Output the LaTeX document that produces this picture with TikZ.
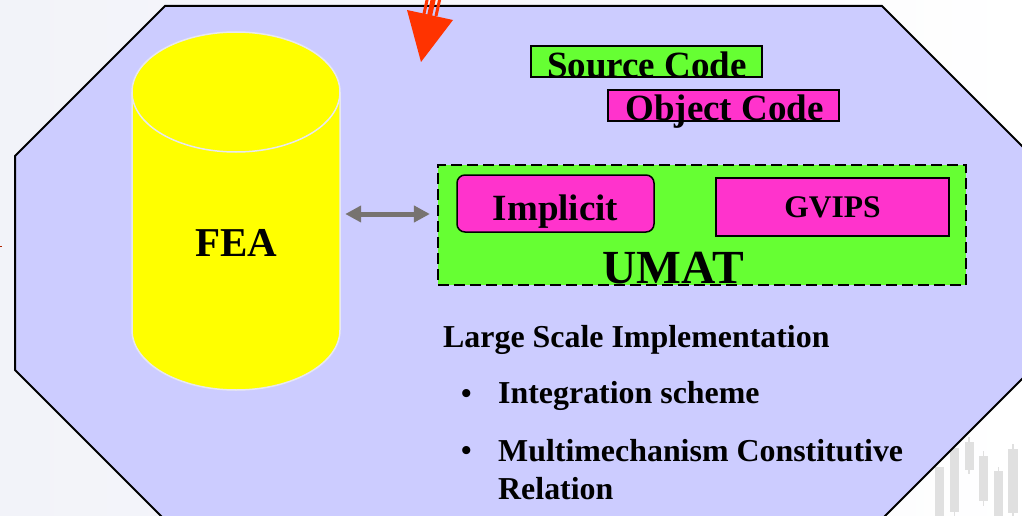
\documentclass[tikz,border=0pt]{standalone}
\usepackage{fontspec}
\setmainfont{Liberation Serif}
\usetikzlibrary{arrows.meta}
\definecolor{octfill}{HTML}{CCCCFF}
\definecolor{codegreen}{HTML}{66FF33}
\definecolor{codepink}{HTML}{FF33CC}
\definecolor{redarrow}{HTML}{FF3300}
\definecolor{candle}{HTML}{E0E0E0}
\definecolor{paleside}{HTML}{F2F3F9}
\definecolor{linkgray}{HTML}{777370}
\definecolor{rimgray}{HTML}{E8E8F0}
\definecolor{feayellow}{HTML}{FFFF00}

\begin{document}
\begin{tikzpicture}[x=1pt,y=-1pt,
  code box/.style={draw=black,line width=1.5pt,inner sep=0pt,font=\fontsize{37}{37}\selectfont\bfseries},
  label text/.style={inner sep=0pt,font=\fontsize{31.9}{38}\selectfont\bfseries,align=left,anchor=west},
  candle body/.style={fill=candle,draw=none},
  candle wick/.style={draw=candle,line width=1.5pt},
  red strip/.style={draw=redarrow}]
  \path[use as bounding box,clip] (0,0) rectangle (1022,516);
  \path[left color=paleside,right color=white,middle color=paleside!60!white] (0,0) rectangle (1022,516);

  \draw[candle wick] (954.5,510) -- (954.5,516);
  \draw[candle wick] (969,437) -- (969,474);
  \draw[candle wick] (983.5,451) -- (983.5,506);
  \draw[candle wick] (998.5,467) -- (998.5,516);
  \draw[candle wick] (1013,444) -- (1013,516);
  \fill[candle body] (935,467) rectangle (944,516);
  \fill[candle body] (950,448) rectangle (959,512);
  \fill[candle body] (964.5,442) rectangle (974,470);
  \fill[candle body] (979,456) rectangle (988,501);
  \fill[candle body] (994,471) rectangle (1003,516);
  \fill[candle body] (1008,449) rectangle (1018,513);

  \draw[draw=black,line width=2pt,fill=octfill] (165,6) -- (882,6) -- (1040,164) -- (1040,361) -- (884,517) -- (884,540) -- (163,540) -- (163,518) -- (15,370) -- (15,156) -- cycle;
  \draw[draw=redarrow!70!black,line width=.8pt] (0,246) -- (2,246);

  \coordinate (strip1a) at (427.5,-2);
  \coordinate (strip1b) at (423.5,16);
  \coordinate (strip2a) at (433.5,-2);
  \coordinate (strip2b) at (429.5,16);
  \coordinate (strip3a) at (440,-2);
  \coordinate (strip3b) at (436,16);
  \draw[red strip,line width=3pt] (strip1a) -- (strip1b);
  \draw[red strip,line width=5pt] (strip2a) -- (strip2b);
  \draw[red strip,line width=3pt] (strip3a) -- (strip3b);
  \fill[redarrow] (407,10) -- (453,20) -- (421,62) -- cycle;

  \draw[draw=rimgray,line width=1.5pt,fill=feayellow] (132,92) arc[start angle=180,end angle=0,x radius=104,y radius=-60] -- (340,330) arc[start angle=0,end angle=-180,x radius=104,y radius=-60] -- cycle;
  \draw[draw=rimgray,line width=1.5pt] (132,92) arc[start angle=180,end angle=360,x radius=104,y radius=-60];
  \node[inner sep=0pt,minimum width=208pt,minimum height=358pt] (fea) at (236,211) {};
  \node[inner sep=0pt,font=\fontsize{41}{41}\selectfont\bfseries] (fealabel) at (236,243) {FEA};

  \node[code box,fill=codegreen,minimum width=231pt,minimum height=31pt] (source) at (646.5,61.5) {};
  \node[code box,fill=codepink,minimum width=231pt,minimum height=31pt] (object) at (723.5,105.5) {};
  \node[inner sep=0pt,font=\fontsize{37}{37}\selectfont\bfseries] (sourcelabel) at (647,65) {Source Code};
  \node[inner sep=0pt,font=\fontsize{37}{37}\selectfont\bfseries] (objectlabel) at (724.5,112) {Object Code};

  \node[draw=black,line width=2.2pt,dash pattern=on 11pt off 5pt,fill=codegreen,minimum width=528pt,minimum height=120pt,inner sep=0pt] (umat) at (702,225) {};
  \node[code box,fill=codepink,rounded corners=8pt,minimum width=197pt,minimum height=57pt] (implicit) at (555.5,203.5) {};
  \node[inner sep=0pt,font=\fontsize{37}{37}\selectfont\bfseries] (implicitlabel) at (555.5,212) {Implicit};
  \node[code box,fill=codepink,minimum width=233pt,minimum height=58pt,font=\fontsize{31.5}{32}\selectfont\bfseries] (gvips) at (832.5,207) {GVIPS};
  \node[inner sep=0pt,font=\fontsize{47.5}{47.5}\selectfont\bfseries] (umatlabel) at (673,268) {UMAT};

  \path ([yshift=-3pt]fea.east) edge[draw=linkgray,line width=5pt,{Triangle[length=16pt,width=16pt]}-{Triangle[length=16pt,width=16pt]},shorten <=5pt,shorten >=7pt] ([yshift=11pt]umat.west);

  \node[label text] (heading) at (443,340) {Large Scale Implementation};
  \node[label text,font=\fontsize{30}{30}\selectfont\bfseries] (bullet1) at (461,397) {•};
  \node[label text] (item1) at (498,396) {Integration scheme};
  \node[label text,font=\fontsize{30}{30}\selectfont\bfseries] (bullet2) at (461,454) {•};
  \node[label text] (item2) at (498,470) {Multimechanism Constitutive\\Relation};
\end{tikzpicture}
\end{document}
